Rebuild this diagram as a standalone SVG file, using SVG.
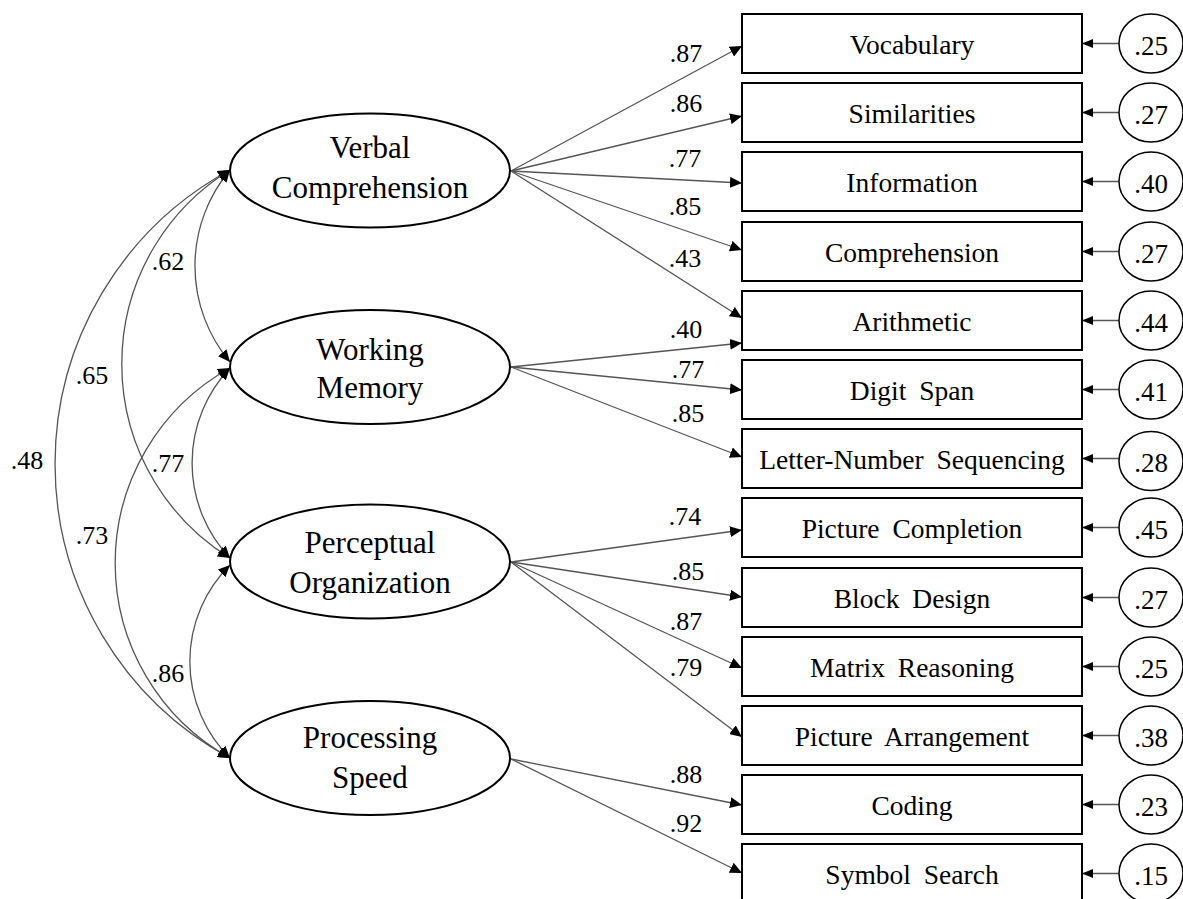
<svg xmlns="http://www.w3.org/2000/svg" width="1183" height="899" viewBox="0 0 1183 899">
<style>
  text { font-family: "Liberation Serif", "Times New Roman", serif; fill: #000; }
  .lat { fill: #fff; stroke: #000; stroke-width: 2; }
  .latt { font-size: 31px; text-anchor: middle; }
  .box { fill: #fff; stroke: #000; stroke-width: 2; }
  .boxt { font-size: 27.5px; text-anchor: middle; word-spacing: 6px; }
  .err { fill: #fff; stroke: #000; stroke-width: 1.5; }
  .errt { font-size: 27px; text-anchor: middle; }
  .lab { font-size: 26px; text-anchor: middle; }
  .ld { fill: none; stroke: #555; stroke-width: 1.3; marker-end: url(#ah); }
  .cv { fill: none; stroke: #555; stroke-width: 1.3; marker-start: url(#ah2); marker-end: url(#ah2); }
  .rs { fill: none; stroke: #555; stroke-width: 1.3; marker-end: url(#ah3); }
</style>
<defs>
  <marker id="ah" markerUnits="userSpaceOnUse" markerWidth="12" markerHeight="11" refX="12" refY="5.5" orient="auto">
    <path d="M0,0 L12,5.5 L0,11 z" fill="#000"/>
  </marker>
  <marker id="ah2" markerUnits="userSpaceOnUse" markerWidth="12" markerHeight="11" refX="12" refY="5.5" orient="auto-start-reverse">
    <path d="M0,0 L12,5.5 L0,11 z" fill="#000"/>
  </marker>
  <marker id="ah3" markerUnits="userSpaceOnUse" markerWidth="11" markerHeight="9" refX="11" refY="4.5" orient="auto">
    <path d="M0,0 L11,4.5 L0,9 z" fill="#000"/>
  </marker>
</defs>

<g id="connectors">
  <!-- loadings -->
  <path class="ld" d="M511,171 L742,46"/>
  <path class="ld" d="M511,171 L742,116"/>
  <path class="ld" d="M511,171 L742,183"/>
  <path class="ld" d="M511,171 L742,250"/>
  <path class="ld" d="M511,171 L742,318"/>
  <path class="ld" d="M511,367 L742,343"/>
  <path class="ld" d="M511,367 L742,390"/>
  <path class="ld" d="M511,367 L742,457"/>
  <path class="ld" d="M511,562 L742,530"/>
  <path class="ld" d="M511,562 L742,597"/>
  <path class="ld" d="M511,562 L742,668"/>
  <path class="ld" d="M511,562 L742,737"/>
  <path class="ld" d="M511,759 L742,805"/>
  <path class="ld" d="M511,759 L742,873"/>
  <!-- residuals -->
  <path class="rs" d="M1119,43.5 L1082,43.5"/>
  <path class="rs" d="M1119,112.5 L1082,112.5"/>
  <path class="rs" d="M1119,181.5 L1082,181.5"/>
  <path class="rs" d="M1119,251.5 L1082,251.5"/>
  <path class="rs" d="M1119,320.5 L1082,320.5"/>
  <path class="rs" d="M1119,389.5 L1082,389.5"/>
  <path class="rs" d="M1119,458.5 L1082,458.5"/>
  <path class="rs" d="M1119,527.5 L1082,527.5"/>
  <path class="rs" d="M1119,597.5 L1082,597.5"/>
  <path class="rs" d="M1119,666.5 L1082,666.5"/>
  <path class="rs" d="M1119,735.5 L1082,735.5"/>
  <path class="rs" d="M1119,804.5 L1082,804.5"/>
  <path class="rs" d="M1119,873.5 L1082,873.5"/>
  <!-- covariances -->
  <path class="cv" d="M230,170 A149,149 0 0 0 230,362"/>
  <path class="cv" d="M230,368 A138,138 0 0 0 230,558"/>
  <path class="cv" d="M230,565 A136,136 0 0 0 230,758"/>
  <path class="cv" d="M230,170 A228,228 0 0 0 230,558"/>
  <path class="cv" d="M230,368 A223,223 0 0 0 230,758"/>
  <path class="cv" d="M230,170 A334.5,334.5 0 0 0 230,758"/>
  <!-- labels -->
  <text class="lab" x="686" y="62">.87</text>
  <text class="lab" x="686" y="112">.86</text>
  <text class="lab" x="685" y="167">.77</text>
  <text class="lab" x="685" y="215">.85</text>
  <text class="lab" x="685" y="267">.43</text>
  <text class="lab" x="686" y="338">.40</text>
  <text class="lab" x="688" y="378">.77</text>
  <text class="lab" x="688" y="422">.85</text>
  <text class="lab" x="685" y="525">.74</text>
  <text class="lab" x="688" y="580">.85</text>
  <text class="lab" x="686" y="630">.87</text>
  <text class="lab" x="686" y="676">.79</text>
  <text class="lab" x="686" y="783">.88</text>
  <text class="lab" x="686" y="832">.92</text>
  <text class="lab" x="168" y="270">.62</text>
  <text class="lab" x="92" y="384">.65</text>
  <text class="lab" x="27" y="469">.48</text>
  <text class="lab" x="168" y="472">.77</text>
  <text class="lab" x="92" y="544">.73</text>
  <text class="lab" x="168" y="682">.86</text>
</g>

<g id="n-vc"><ellipse class="lat" cx="370" cy="170.5" rx="140" ry="57"/><text class="latt" x="370" y="158">Verbal</text><text class="latt" x="370" y="198">Comprehension</text></g>
<g id="n-wm"><ellipse class="lat" cx="370" cy="367" rx="140" ry="57"/><text class="latt" x="370" y="360">Working</text><text class="latt" x="370" y="398">Memory</text></g>
<g id="n-po"><ellipse class="lat" cx="370" cy="561.5" rx="140" ry="57"/><text class="latt" x="370" y="553">Perceptual</text><text class="latt" x="370" y="593">Organization</text></g>
<g id="n-ps"><ellipse class="lat" cx="370" cy="758" rx="140" ry="57"/><text class="latt" x="370" y="748">Processing</text><text class="latt" x="370" y="788">Speed</text></g>

<g id="b-voc"><rect class="box" x="742" y="14" width="340" height="59"/><text class="boxt" x="912" y="53.5">Vocabulary</text></g>
<g id="b-sim"><rect class="box" x="742" y="83" width="340" height="59"/><text class="boxt" x="912" y="122.5">Similarities</text></g>
<g id="b-inf"><rect class="box" x="742" y="152" width="340" height="59"/><text class="boxt" x="912" y="191.5">Information</text></g>
<g id="b-com"><rect class="box" x="742" y="222" width="340" height="59"/><text class="boxt" x="912" y="261.5">Comprehension</text></g>
<g id="b-ari"><rect class="box" x="742" y="291" width="340" height="59"/><text class="boxt" x="912" y="330.5">Arithmetic</text></g>
<g id="b-dsp"><rect class="box" x="742" y="360" width="340" height="59"/><text class="boxt" x="912" y="399.5">Digit Span</text></g>
<g id="b-lns"><rect class="box" x="742" y="429" width="340" height="59"/><text class="boxt" x="912" y="468.5">Letter-Number Sequencing</text></g>
<g id="b-pcm"><rect class="box" x="742" y="498" width="340" height="59"/><text class="boxt" x="912" y="537.5">Picture Completion</text></g>
<g id="b-bd"><rect class="box" x="742" y="568" width="340" height="59"/><text class="boxt" x="912" y="607.5">Block Design</text></g>
<g id="b-mr"><rect class="box" x="742" y="637" width="340" height="59"/><text class="boxt" x="912" y="676.5">Matrix Reasoning</text></g>
<g id="b-pa"><rect class="box" x="742" y="706" width="340" height="59"/><text class="boxt" x="912" y="745.5">Picture Arrangement</text></g>
<g id="b-cd"><rect class="box" x="742" y="775" width="340" height="59"/><text class="boxt" x="912" y="814.5">Coding</text></g>
<g id="b-ss"><rect class="box" x="742" y="844" width="340" height="59"/><text class="boxt" x="912" y="883.5">Symbol Search</text></g>

<g id="e1"><ellipse class="err" cx="1151" cy="43.5" rx="32" ry="29.5"/><text class="errt" x="1151" y="54.5">.25</text></g>
<g id="e2"><ellipse class="err" cx="1151" cy="112.5" rx="32" ry="29.5"/><text class="errt" x="1151" y="123.5">.27</text></g>
<g id="e3"><ellipse class="err" cx="1151" cy="181.5" rx="32" ry="29.5"/><text class="errt" x="1151" y="192.5">.40</text></g>
<g id="e4"><ellipse class="err" cx="1151" cy="251.5" rx="32" ry="29.5"/><text class="errt" x="1151" y="262.5">.27</text></g>
<g id="e5"><ellipse class="err" cx="1151" cy="320.5" rx="32" ry="29.5"/><text class="errt" x="1151" y="331.5">.44</text></g>
<g id="e6"><ellipse class="err" cx="1151" cy="389.5" rx="32" ry="29.5"/><text class="errt" x="1151" y="400.5">.41</text></g>
<g id="e7"><ellipse class="err" cx="1151" cy="461" rx="32" ry="29.5"/><text class="errt" x="1151" y="472">.28</text></g>
<g id="e8"><ellipse class="err" cx="1151" cy="527.5" rx="32" ry="29.5"/><text class="errt" x="1151" y="538.5">.45</text></g>
<g id="e9"><ellipse class="err" cx="1151" cy="597.5" rx="32" ry="29.5"/><text class="errt" x="1151" y="608.5">.27</text></g>
<g id="e10"><ellipse class="err" cx="1151" cy="666.5" rx="32" ry="29.5"/><text class="errt" x="1151" y="677.5">.25</text></g>
<g id="e11"><ellipse class="err" cx="1151" cy="735.5" rx="32" ry="29.5"/><text class="errt" x="1151" y="746.5">.38</text></g>
<g id="e12"><ellipse class="err" cx="1151" cy="804.5" rx="32" ry="29.5"/><text class="errt" x="1151" y="815.5">.23</text></g>
<g id="e13"><ellipse class="err" cx="1151" cy="873.5" rx="32" ry="29.5"/><text class="errt" x="1151" y="884.5">.15</text></g>
</svg>
